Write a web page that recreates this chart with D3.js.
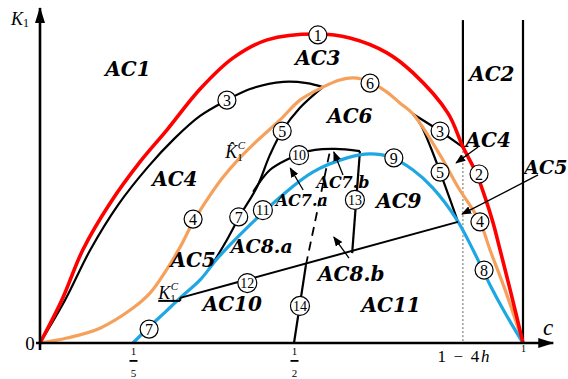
<!DOCTYPE html>
<html>
<head>
<meta charset="utf-8">
<script src="https://cdn.jsdelivr.net/npm/d3@7"></script>
<style>
  html, body { margin: 0; padding: 0; background: #fff; }
  svg { display: block; }
  .ac { font-family: "DejaVu Serif", serif; font-weight: bold; font-style: italic; fill: #000; }
  .num { font-family: "Liberation Serif", serif; fill: #000; }
  .math { font-family: "Liberation Serif", serif; fill: #000; }
</style>
</head>
<body>
<svg id="chart" width="568" height="379"></svg>
<script>
// ---- parameters ----
const h = 0.0328;            // 1 - 4h marks the right-hand strip
const cEdge = 1 - 4 * h;

// ---- boundary curves, [c, K1] ----
const redBoundary = [[0,0],[0.047,0.139],[0.092,0.301],[0.151,0.453],[0.213,0.586],[0.263,0.689],
  [0.325,0.822],[0.386,0.922],[0.450,0.981],[0.552,1.0],[0.622,0.987],[0.703,0.939],[0.760,0.874],
  [0.836,0.744],[0.869,0.634],[0.897,0.553],[0.917,0.472],[0.934,0.392],[0.950,0.301],[0.972,0.172],
  [1,0]];
const curve3Left = [[0,0],[0.054,0.139],[0.108,0.301],[0.168,0.447],[0.228,0.570],[0.278,0.663],
  [0.325,0.735],[0.375,0.786],[0.418,0.822],[0.480,0.845],[0.528,0.841],[0.563,0.828]];
const hatK1C = [[0,0],[0.058,0.016],[0.129,0.048],[0.2,0.113],[0.232,0.162],[0.260,0.230],[0.288,0.311],
  [0.312,0.392],[0.340,0.469],[0.368,0.537],[0.399,0.599],[0.431,0.654],[0.474,0.722],[0.513,0.786],
  [0.563,0.828],[0.600,0.851],[0.629,0.858],[0.666,0.845],[0.703,0.812],[0.731,0.777],[0.760,0.741],
  [0.819,0.608],[0.858,0.505],[0.906,0.392],[0.928,0.301],[0.961,0.172],[1,0]];
const K1C = [[0.2,0],[0.232,0.055],[0.260,0.100],[0.288,0.146],[0.325,0.204],[0.358,0.275],[0.418,0.382],
  [0.474,0.472],[0.541,0.553],[0.616,0.599],[0.666,0.612],[0.710,0.602],[0.760,0.560],[0.803,0.502],
  [0.856,0.398],[0.891,0.301],[0.928,0.188],[0.961,0.097],[1,0]];
const curve5Left = [[0.563,0.828],[0.513,0.761],[0.478,0.686],[0.455,0.608],[0.431,0.505],[0.399,0.411],
  [0.377,0.340],[0.347,0.252]];
const curve10 = [[0.424,0.489],[0.455,0.560],[0.493,0.599],[0.511,0.612],[0.546,0.625],[0.590,0.628],[0.644,0.621]];
const curve5Right = [[0.760,0.741],[0.777,0.706],[0.799,0.631],[0.819,0.553],[0.841,0.463],[0.858,0.392]];
const curve3Right = [[0.760,0.741],[0.819,0.686],[cEdge,0.634]];
const line12 = [[0.288,0.146],[0.858,0.392]];
const line13 = [[0.644,0.621],[0.627,0.291]];
const line14Solid = [[0.5,0],[0.526,0.252]];
const line14Dashed = [[0.526,0.252],[0.579,0.625]];

// ---- axis ticks ----
const tickC = [0.2, 0.5, cEdge, 1];
const tickTexts = ["1/5", "1/2", "1 − 4h", "1"];

// ---- region names [text, c, K1, size] ----
const regionLabels = [
  ["AC1",0.189,0.887,20],["AC2",0.932,0.871,20],["AC3",0.552,0.922,20],["AC4",0.278,0.531,20],
  ["AC4",0.924,0.657,20],["AC5",1.050,0.570,19],["AC5",0.312,0.269,20],["AC6",0.622,0.735,20],
  ["AC7.a",0.517,0.460,16],["AC7.b",0.607,0.521,16],["AC8.a",0.440,0.314,19],["AC8.b",0.625,0.223,20],
  ["AC9",0.729,0.460,20],["AC10",0.385,0.126,20],["AC11",0.712,0.123,20]];

// ---- circled curve numbers [text, c, K1] ----
const curveNumbers = [
  ["1",0.552,0.997],["2",0.904,0.547],["3",0.375,0.786],["3",0.819,0.686],["4",0.312,0.401],
  ["4",0.906,0.392],["5",0.478,0.686],["5",0.819,0.553],["6",0.666,0.841],["7",0.230,0.045],
  ["7",0.397,0.408],["8",0.915,0.236],["9",0.718,0.599],["10",0.511,0.608],["11",0.442,0.430],
  ["12",0.413,0.194],["13",0.633,0.463],["14",0.513,0.120]];

// ---- pointer arrows [[c0,K0],[c1,K1]] ----
const pointers = [
  [[0.520,0.495],[0.493,0.566]],
  [[0.607,0.544],[0.587,0.618]],
  [[0.620,0.275],[0.587,0.343]],
  [[0.902,0.634],[0.854,0.583]],
  [[1.033,0.544],[0.867,0.417]]];

const svg = d3.select("#chart");
const x = d3.scaleLinear().domain([0, 0.2, 0.5, 1]).range([40, 133, 294, 523]);
const y = d3.scaleLinear().domain([0, 1]).range([343, 34]);

const defs = svg.append("defs");
defs.append("marker").attr("id","axisHead").attr("viewBox","0 0 16 10").attr("refX",15).attr("refY",5)
  .attr("markerWidth",16).attr("markerHeight",10).attr("markerUnits","userSpaceOnUse").attr("orient","auto")
  .append("path").attr("d","M0,0 L16,5 L0,10 Z").attr("fill","#000");
defs.append("marker").attr("id","ptrHead").attr("viewBox","0 0 10 8").attr("refX",9).attr("refY",4)
  .attr("markerWidth",10).attr("markerHeight",8).attr("markerUnits","userSpaceOnUse").attr("orient","auto")
  .append("path").attr("d","M0,0 L10,4 L0,8 Z").attr("fill","#000");

const smooth = d3.line().x(d => x(d[0])).y(d => y(d[1])).curve(d3.curveCatmullRom.alpha(0.5));
const straight = d3.line().x(d => x(d[0])).y(d => y(d[1]));

// vertical strip boundaries
svg.append("path").attr("d", straight([[cEdge,1.045],[cEdge,0.634]])).attr("stroke","#000").attr("stroke-width",2.2).attr("fill","none");
svg.append("path").attr("d", straight([[cEdge,0.634],[cEdge,0]])).attr("stroke","#666").attr("stroke-width",1).attr("stroke-dasharray","2,2").attr("fill","none");
svg.append("path").attr("d", straight([[1,1.045],[1,0]])).attr("stroke","#000").attr("stroke-width",2.2).attr("fill","none");

// black boundary curves
[curve3Left, curve5Left, curve10, curve5Right].forEach(c =>
  svg.append("path").attr("d", smooth(c)).attr("stroke","#000").attr("stroke-width",2.2).attr("fill","none"));
[curve3Right, line13, line14Solid].forEach(c =>
  svg.append("path").attr("d", straight(c)).attr("stroke","#000").attr("stroke-width",2.2).attr("fill","none"));
svg.append("path").attr("d", straight(line14Dashed)).attr("stroke","#000").attr("stroke-width",1.8)
  .attr("stroke-dasharray","9,6").attr("fill","none");

// coloured curves
svg.append("path").attr("d", smooth(hatK1C)).attr("stroke","#f5a15c").attr("stroke-width",3.2).attr("fill","none");
svg.append("path").attr("d", smooth(K1C)).attr("stroke","#1ea7e3").attr("stroke-width",3.2).attr("fill","none");
svg.append("path").attr("d", smooth(redBoundary)).attr("stroke","#ff0000").attr("stroke-width",3.6).attr("fill","none");

svg.append("path").attr("d", straight(line12)).attr("stroke","#000").attr("stroke-width",2).attr("fill","none");

// axes
svg.append("line").attr("x1", x(0)).attr("y1", y(0) + 7).attr("x2", x(0)).attr("y2", y(1.084))
  .attr("stroke","#000").attr("stroke-width",2.6).attr("marker-end","url(#axisHead)");
svg.append("line").attr("x1", x(0) - 4).attr("y1", y(0)).attr("x2", x(1.066)).attr("y2", y(0))
  .attr("stroke","#000").attr("stroke-width",2.6).attr("marker-end","url(#axisHead)");

const ax = svg.append("g").attr("transform", `translate(0,${y(0)})`)
  .call(d3.axisBottom(x).tickValues(tickC).tickSize(0).tickFormat(""));
ax.select(".domain").remove();
ax.selectAll(".tick").each(function(d, i) {
  const g = d3.select(this);
  const t = tickTexts[i];
  if (t.includes("/")) {
    const [n, m] = t.split("/");
    g.append("text").attr("class","math").attr("y",12).attr("text-anchor","middle").attr("font-size",11).text(n);
    g.append("rect").attr("x",-4).attr("y",17).attr("width",8).attr("height",1.8).attr("fill","#000");
    g.append("text").attr("class","math").attr("y",34).attr("text-anchor","middle").attr("font-size",11).text(m);
  } else if (t.endsWith("h")) {
    const tx = g.append("text").attr("class","math").attr("y",19).attr("text-anchor","middle").attr("font-size",17)
      .attr("textLength",52).attr("lengthAdjust","spacing");
    tx.append("tspan").text(t.slice(0, -1));
    tx.append("tspan").attr("font-style","italic").text("h");
  } else {
    g.append("text").attr("class","math").attr("y",9).attr("text-anchor","middle").attr("font-size",10).text(t);
  }
});

// axis titles
const kt = svg.append("text").attr("class","math").attr("x",11).attr("y",25).attr("font-size",18);
kt.append("tspan").attr("font-style","italic").text("K");
kt.append("tspan").attr("font-size",12).attr("dy",2).text("1");
svg.append("text").attr("class","math").attr("x",543).attr("y",335).attr("font-size",23).attr("font-style","italic").text("c");
svg.append("text").attr("class","math").attr("x",x(0) - 10).attr("y",y(0) + 7).attr("font-size",19).attr("text-anchor","middle").text("0");

// curve names
const startK1C = K1C[3];
const sx = x(startK1C[0]), sy = y(startK1C[1]);
svg.append("line").attr("x1", sx - 22).attr("x2", sx).attr("y1", sy + 3).attr("y2", sy + 3)
  .attr("stroke","#000").attr("stroke-width",2);
svg.append("line").attr("x1", sx).attr("x2", sx).attr("y1", sy).attr("y2", sy + 3)
  .attr("stroke","#000").attr("stroke-width",2);
const k1 = svg.append("text").attr("class","math").attr("x", sx - 22).attr("y", sy + 1).attr("font-size",18);
k1.append("tspan").attr("font-style","italic").text("K");
k1.append("tspan").attr("font-size",11).attr("dy",3).text("1");
k1.append("tspan").attr("font-size",11).attr("font-style","italic").attr("dx",-5).attr("dy",-12).text("C");

const kh = svg.append("text").attr("class","math").attr("x", x(0.372)).attr("y", y(0.600)).attr("font-size",18);
kh.append("tspan").attr("font-style","italic").text("K\u0302");
kh.append("tspan").attr("font-size",11).attr("dy",3).text("1");
kh.append("tspan").attr("font-size",11).attr("font-style","italic").attr("dx",-5).attr("dy",-12).text("C");

// pointer arrows
pointers.forEach(p =>
  svg.append("path").attr("d", straight(p)).attr("stroke","#000").attr("stroke-width",1.3)
    .attr("fill","none").attr("marker-end","url(#ptrHead)"));

// circled numbers
const cn = svg.append("g").selectAll("g").data(curveNumbers).join("g")
  .attr("transform", d => `translate(${x(d[1])},${y(d[2])})`);
cn.append("circle").attr("r", d => d[0].length > 1 ? 9.5 : 9).attr("fill","#fff").attr("stroke","#000").attr("stroke-width",1.2);
cn.append("text").attr("class","num").attr("text-anchor","middle").attr("dy","0.35em")
  .attr("font-size", d => d[0].length > 1 ? 14 : 16)
  .attr("textLength", d => d[0].length > 1 ? 14 : null)
  .attr("lengthAdjust","spacingAndGlyphs")
  .text(d => d[0]);

// region names
svg.append("g").selectAll("text").data(regionLabels).join("text")
  .attr("class","ac").attr("text-anchor","middle").attr("dy","0.35em")
  .attr("x", d => x(d[1])).attr("y", d => y(d[2])).attr("font-size", d => d[3])
  .text(d => d[0]);
</script>
</body>
</html>
